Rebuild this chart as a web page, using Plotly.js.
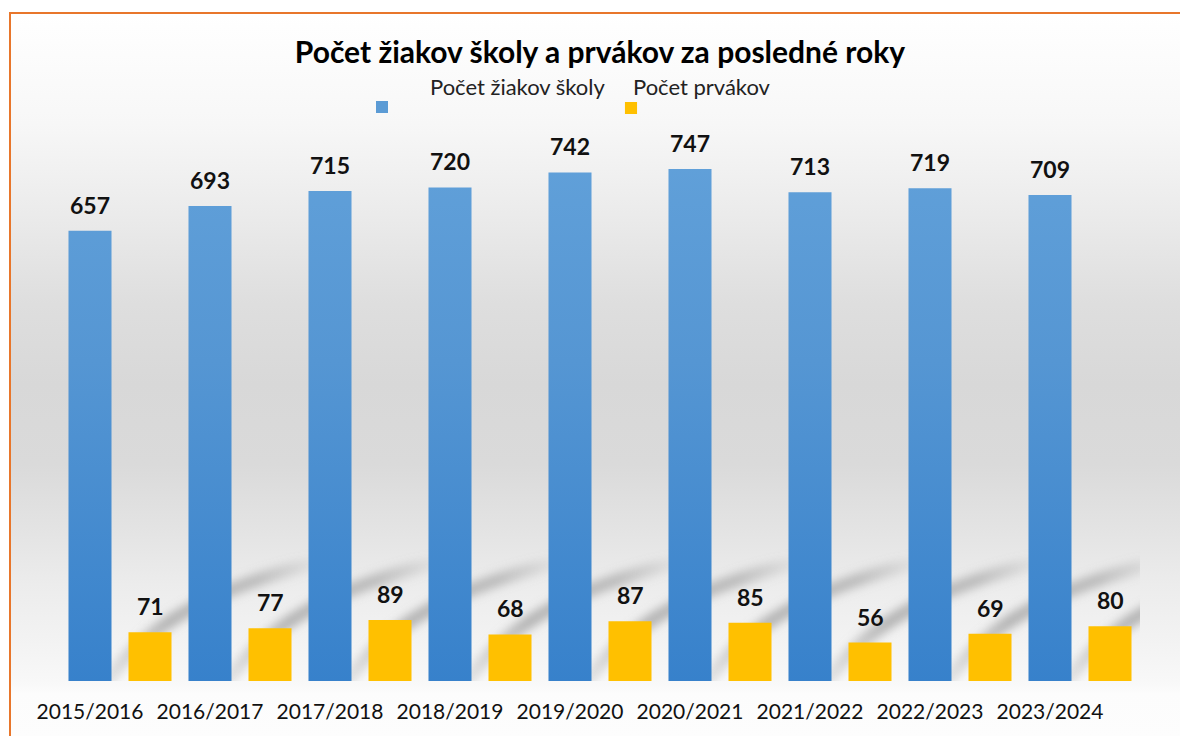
<!DOCTYPE html>
<html>
<head>
<meta charset="utf-8">
<script src="https://cdn.plot.ly/plotly-3.0.1.min.js"></script>
<style>
  html, body { margin: 0; padding: 0; background: #ffffff; }
  #wrap { position: relative; width: 1180px; height: 736px; overflow: hidden; background: #ffffff; }
  #frame {
    position: absolute; left: 9px; top: 12px; width: 1200px; height: 760px;
    border-top: 2px solid #E8762B; border-left: 2px solid #E8762B;
    background: linear-gradient(to bottom,
      #ffffff 0px, #f7f7f7 110px, #ebebeb 200px, #dedede 290px, #d8d8d8 370px,
      #dadada 450px, #e4e4e4 520px, #ececec 570px, #f3f3f3 630px, #f8f8f8 668px,
      #fcfcfc 680px, #fdfdfd 724px);
  }
  #chart { position: absolute; left: 0; top: 0; width: 1180px; height: 736px; }
</style>
</head>
<body>
<div id="wrap">
  <div id="frame"></div>
  <div id="chart"></div>
</div>
<script>
// ---- data ----
const years = ["2015/2016","2016/2017","2017/2018","2018/2019","2019/2020","2020/2021","2021/2022","2022/2023","2023/2024"];
const students = [657, 693, 715, 720, 742, 747, 713, 719, 709];
const firstGraders = [71, 77, 89, 68, 87, 85, 56, 69, 80];
const seriesNames = ["Počet žiakov školy", "Počet prvákov"];
const chartTitle = "Počet žiakov školy a prvákov za posledné roky";

const BLUE = "#4a8fd1";
const YELLOW = "#FFC000";
const FONT = "Lato, 'Open Sans', sans-serif";

const traces = [
  { type: "bar", name: seriesNames[0], x: years, y: students, marker: { color: BLUE }, hoverinfo: "skip" },
  { type: "bar", name: seriesNames[1], x: years, y: firstGraders, marker: { color: YELLOW }, hoverinfo: "skip" }
];

// value labels above bars
const annotations = [];
years.forEach((yr, i) => {
  annotations.push({ x: yr, y: students[i], xref: "x", yref: "y", text: String(students[i]),
    showarrow: false, xshift: -30, yshift: 26, yanchor: "middle",
    font: { family: FONT, size: 23, color: "#111", weight: "bold" } });
  annotations.push({ x: yr, y: firstGraders[i], xref: "x", yref: "y", text: String(firstGraders[i]),
    showarrow: false, xshift: 30, yshift: 26, yanchor: "middle",
    font: { family: FONT, size: 23, color: "#111", weight: "bold" } });
});
// legend text
annotations.push({ xref: "paper", yref: "paper", x: 0.424, y: 1.0224, text: seriesNames[0], showarrow: false,
  xanchor: "center", yanchor: "middle", font: { family: FONT, size: 22, color: "#222" } });
annotations.push({ xref: "paper", yref: "paper", x: 0.594, y: 1.0224, text: seriesNames[1], showarrow: false,
  xanchor: "center", yanchor: "middle", font: { family: FONT, size: 22, color: "#222" } });

// legend swatches
const shapes = [
  { type: "rect", xref: "paper", yref: "paper", x0: 0.2926, x1: 0.3037, y0: 0.9776, y1: 0.9983,
    fillcolor: "#5B9BD5", line: { width: 0 } },
  { type: "rect", xref: "paper", yref: "paper", x0: 0.5231, x1: 0.5343, y0: 0.9759, y1: 0.9966,
    fillcolor: YELLOW, line: { width: 0 } }
];

// soft diagonal floor shadow (decorative), placed once per category via the axes
const shadowSvg = '<svg xmlns="http://www.w3.org/2000/svg" width="260" height="145" viewBox="0 0 260 145">' +
  '<defs><filter id="b" x="-30%" y="-30%" width="160%" height="160%"><feGaussianBlur stdDeviation="5"/></filter>' +
  '<linearGradient id="g" gradientUnits="userSpaceOnUse" x1="20" y1="0" x2="245" y2="0">' +
  '<stop offset="0" stop-color="#8a8a8a" stop-opacity="0.15"/>' +
  '<stop offset="0.3" stop-color="#8a8a8a" stop-opacity="0.6"/>' +
  '<stop offset="0.7" stop-color="#8a8a8a" stop-opacity="0.5"/>' +
  '<stop offset="1" stop-color="#8a8a8a" stop-opacity="0"/></linearGradient></defs>' +
  '<path d="M26,142 Q80,59 240,21" fill="none" stroke="url(#g)" stroke-width="13" stroke-linecap="round" filter="url(#b)"/>' +
  '</svg>';
const shadowSrc = "data:image/svg+xml;charset=utf-8," + encodeURIComponent(shadowSvg);
const images = years.map((yr, i) => ({
  source: shadowSrc, xref: "x", yref: "y", x: i - 40 / 120, y: 204.2,
  sizex: 260 / 120, sizey: 211.5, sizing: "stretch", xanchor: "left", yanchor: "top",
  layer: "below", opacity: 1
}));

const layout = {
  width: 1180, height: 736,
  margin: { l: 60, r: 40, t: 100, b: 55, pad: 0 },
  paper_bgcolor: "rgba(0,0,0,0)",
  plot_bgcolor: "rgba(0,0,0,0)",
  showlegend: false,
  barmode: "group",
  bargap: 0,
  bargroupgap: 0.283,
  title: { text: chartTitle, x: 0.5, xref: "paper", xanchor: "center", y: 0.928, yref: "container", yanchor: "middle",
    font: { family: FONT, size: 30, color: "#000", weight: "bold" } },
  xaxis: { type: "category", range: [-0.5, 8.5], showgrid: false, zeroline: false, showline: false,
    ticks: "", ticklabelshift: -30, ticklabelstandoff: 16,
    tickfont: { family: FONT, size: 21, color: "#111" }, fixedrange: true },
  yaxis: { range: [0, 847.6], visible: false, showgrid: false, zeroline: false, fixedrange: true },
  annotations: annotations,
  shapes: shapes,
  images: images
};

Plotly.newPlot("chart", traces, layout, { displayModeBar: false, staticPlot: true }).then(gd => {
  const ns = "http://www.w3.org/2000/svg";
  const svg = gd.querySelector("svg.main-svg");
  let defs = svg.querySelector("defs");
  if (!defs) { defs = document.createElementNS(ns, "defs"); svg.insertBefore(defs, svg.firstChild); }
  const h = gd._fullLayout._size.h;

  // vertical gradient for the blue bars
  const grad = document.createElementNS(ns, "linearGradient");
  grad.setAttribute("id", "blueGrad");
  grad.setAttribute("gradientUnits", "userSpaceOnUse");
  grad.setAttribute("x1", "0"); grad.setAttribute("x2", "0");
  grad.setAttribute("y1", "0"); grad.setAttribute("y2", String(h));
  [["0", "#64a3db"], ["0.45", "#5596d3"], ["1", "#3781cb"]].forEach(([o, c]) => {
    const s = document.createElementNS(ns, "stop");
    s.setAttribute("offset", o); s.setAttribute("stop-color", c);
    grad.appendChild(s);
  });
  defs.appendChild(grad);

  const barTraces = gd.querySelectorAll("g.trace.bars");
  if (barTraces.length) {
    barTraces[0].querySelectorAll("path").forEach(p => { p.style.fill = "url(#blueGrad)"; });
  }
});
</script>
</body>
</html>
